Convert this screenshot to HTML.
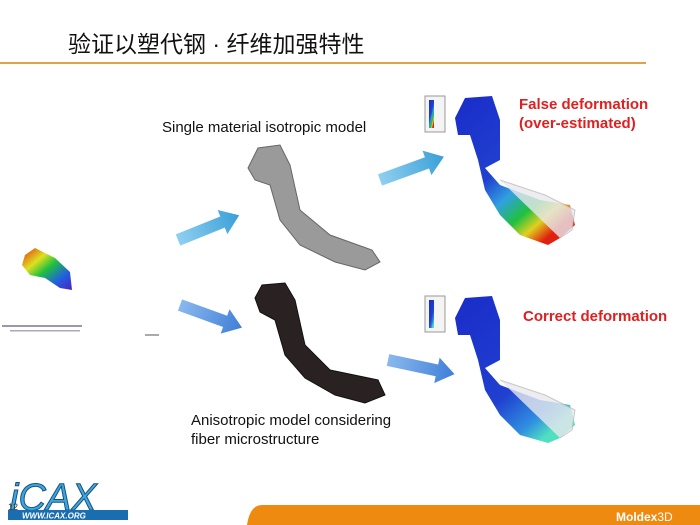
<!DOCTYPE html>
<html><head><meta charset="utf-8"><style>
body{margin:0;width:700px;height:525px;overflow:hidden;background:#fff;font-family:"Liberation Sans","Noto Sans CJK SC",sans-serif;position:relative}
.t{position:absolute;white-space:nowrap}
</style></head><body>
<div class="t" style="left:68px;top:25px;font-size:23px;color:#111">验证以塑代钢 · 纤维加强特性</div>
<div style="position:absolute;left:0;top:62px;width:646px;height:2px;background:#dfa44a"></div>
<div class="t" style="left:162px;top:119px;font-size:15px;color:#111">Single material isotropic model</div>
<div class="t" style="left:519px;top:95px;font-size:15px;font-weight:bold;color:#e02020;line-height:19px">False deformation<br>(over-estimated)</div>
<div class="t" style="left:523px;top:308px;font-size:15px;font-weight:bold;color:#e02020">Correct deformation</div>
<div class="t" style="left:191px;top:411px;font-size:15px;color:#111;line-height:19px">Anisotropic model considering<br>fiber microstructure</div>
<svg width="700" height="525" style="position:absolute;left:0;top:0">
<defs>
<linearGradient id="ar" x1="0" y1="0" x2="1" y2="0"><stop offset="0" stop-color="#8fd0f0"/><stop offset="1" stop-color="#3a9fd8"/></linearGradient>
<linearGradient id="ar2" x1="0" y1="0" x2="1" y2="0"><stop offset="0" stop-color="#8ab8ee"/><stop offset="1" stop-color="#3f7fd8"/></linearGradient>
<linearGradient id="hot" x1="0" y1="0" x2="0.7" y2="1"><stop offset="0" stop-color="#1a2cc8"/><stop offset="0.5" stop-color="#2040d0"/><stop offset="0.66" stop-color="#30a0e0"/><stop offset="0.8" stop-color="#20c040"/><stop offset="0.9" stop-color="#e0d020"/><stop offset="1" stop-color="#e02010"/></linearGradient>
<linearGradient id="cold" x1="0" y1="0" x2="0.7" y2="1"><stop offset="0" stop-color="#1a2cc8"/><stop offset="0.65" stop-color="#2040d0"/><stop offset="0.88" stop-color="#3090e0"/><stop offset="1" stop-color="#50e0c0"/></linearGradient>
<linearGradient id="sm" x1="0" y1="0" x2="1" y2="1"><stop offset="0" stop-color="#e03010"/><stop offset="0.3" stop-color="#e0e020"/><stop offset="0.5" stop-color="#20c040"/><stop offset="0.75" stop-color="#2060e0"/><stop offset="1" stop-color="#5020c0"/></linearGradient>
</defs>
<g transform="translate(178,240) rotate(-22)"><path d="M0,-6 L48,-6 L48,-13 L66,0 L48,13 L48,6 L0,6Z" fill="url(#ar)"/></g>
<g transform="translate(380,180) rotate(-20)"><path d="M0,-6 L50,-6 L50,-13 L68,0 L50,13 L50,6 L0,6Z" fill="url(#ar)"/></g>
<g transform="translate(180,305) rotate(20)"><path d="M0,-6 L48,-6 L48,-13 L66,0 L48,13 L48,6 L0,6Z" fill="url(#ar2)"/></g>
<g transform="translate(388,360) rotate(12)"><path d="M0,-6 L50,-6 L50,-13 L68,0 L50,13 L50,6 L0,6Z" fill="url(#ar2)"/></g>
<path d="M248,168 L258,148 L280,145 L290,165 L300,210 L330,235 L372,250 L380,262 L365,270 L335,262 L300,245 L280,220 L270,185 L255,180Z" fill="#9a9a9a" stroke="#666" stroke-width="1"/>
<path d="M255,298 L262,285 L285,283 L295,300 L305,345 L330,370 L378,380 L385,395 L365,403 L335,395 L305,378 L285,355 L275,320 L260,312Z" fill="#2a2222" stroke="#111"/>
<path d="M455,118 L465,98 L492,96 L500,120 L500,160 L485,168 L500,185 L540,200 L570,205 L575,225 L560,238 L548,245 L520,235 L500,215 L485,190 L478,160 L470,135 L458,135Z" fill="url(#hot)"/>
<path d="M500,180 L545,195 L575,210 L572,230 L560,238" fill="#e8e8ee" stroke="#bbb" opacity="0.8"/>
<rect x="425" y="96" width="20" height="36" fill="#f4f4f4" stroke="#999"/>
<rect x="429" y="100" width="5" height="28" fill="url(#hot)"/>
<path d="M455,318 L465,298 L492,296 L500,320 L500,360 L485,368 L500,385 L540,400 L570,405 L575,425 L560,438 L548,443 L520,435 L500,415 L485,390 L478,360 L470,335 L458,335Z" fill="url(#cold)"/>
<path d="M500,380 L545,395 L575,410 L572,430 L560,438" fill="#e8e8ee" stroke="#bbb" opacity="0.8"/>
<rect x="425" y="296" width="20" height="36" fill="#f4f4f4" stroke="#999"/>
<rect x="429" y="300" width="5" height="28" fill="url(#cold)"/>
<path d="M25,255 L35,248 L55,258 L70,272 L72,290 L60,288 L45,278 L30,275 L22,265Z" fill="url(#sm)"/>
<rect x="2" y="325" width="80" height="2" fill="#99a"/><rect x="10" y="330" width="70" height="1.5" fill="#aab"/>
<rect x="145" y="334" width="14" height="2" fill="#aaa"/>
<path d="M262,505 Q250,505 247,525 L700,525 L700,505Z" fill="#ef8a10"/>
<text x="616" y="521" font-family="Liberation Sans" font-size="12" font-weight="bold" fill="#fff">Moldex<tspan font-weight="normal">3D</tspan></text>
<text x="10" y="510" font-family="Liberation Sans" font-size="38" font-style="italic" fill="#3aa8dc" stroke="#1a5080" stroke-width="1">iCAX</text>
<rect x="8" y="510" width="120" height="10" fill="#1a6eb0"/>
<text x="22" y="518.5" font-family="Liberation Sans" font-size="8" font-weight="bold" font-style="italic" fill="#fff">WWW.ICAX.ORG</text>
<text x="8" y="510" font-size="9" font-family="Liberation Sans" fill="#333">12</text>
</svg>
</body></html>
